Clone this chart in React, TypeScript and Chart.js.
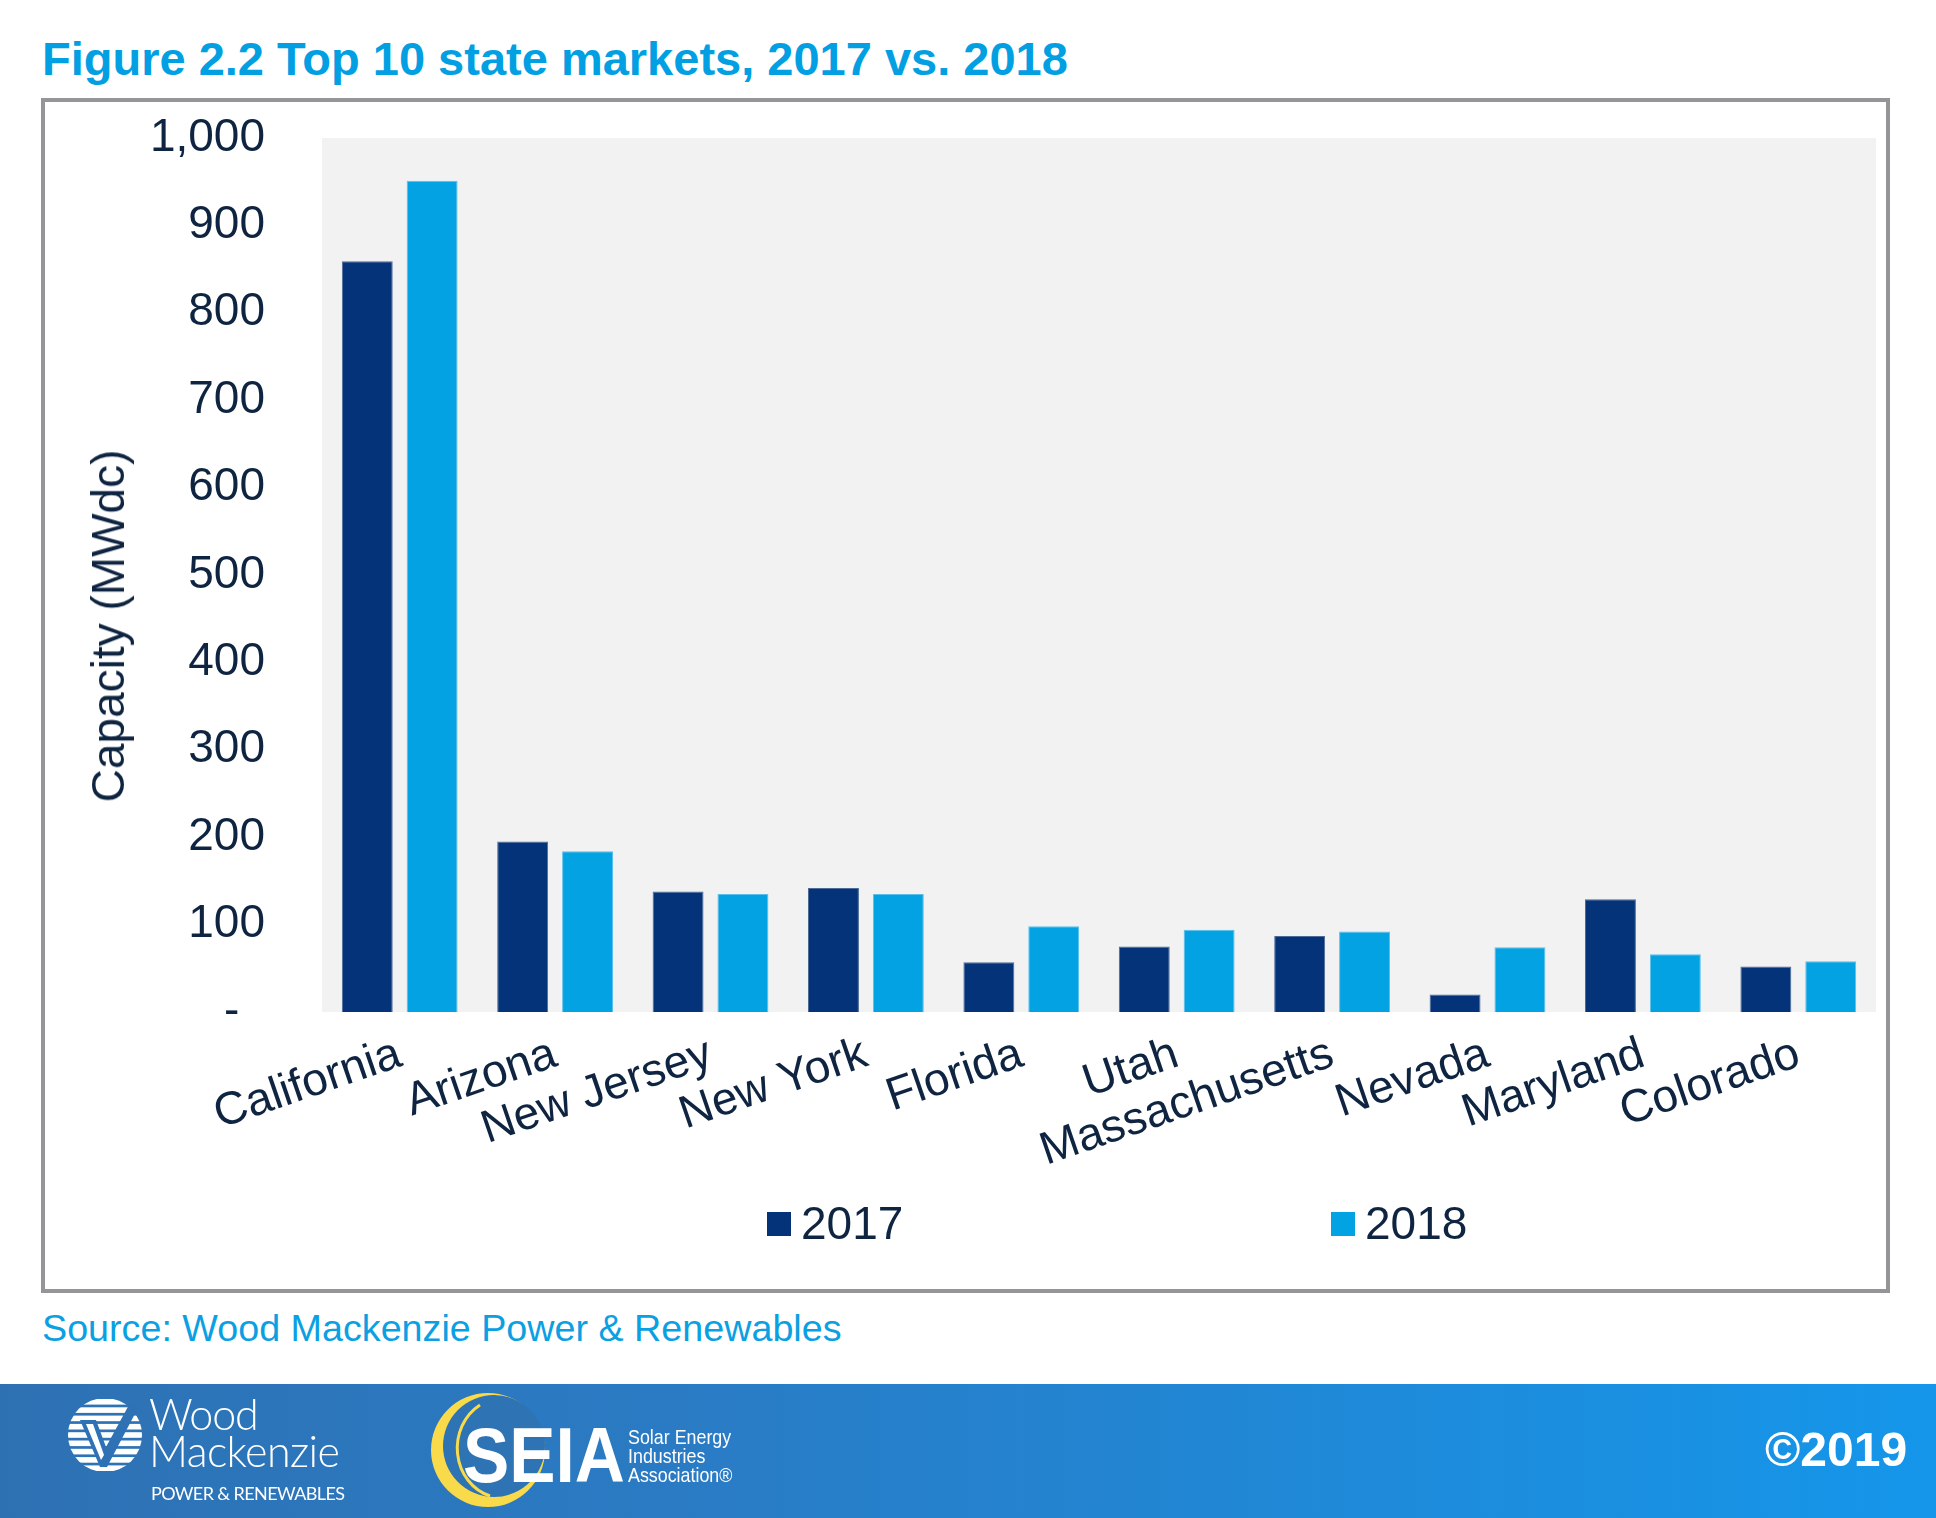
import React, { useEffect, useRef } from 'react';
import { Chart, registerables } from 'chart.js';

Chart.register(...registerables);

// ---- Data ----
const categories = ['California', 'Arizona', 'New Jersey', 'New York', 'Florida', 'Utah', 'Massachusetts', 'Nevada', 'Maryland', 'Colorado'];
const values2017 = [859, 195, 138, 142, 57, 75, 87, 20, 129, 52];
const values2018 = [951, 184, 135, 135, 98, 94, 92, 74, 66, 58];
const seriesLabels = ['2017', '2018'];
const seriesColors = ['#04337A', '#03A2E2'];
const seriesBorders = ['#4C6C97', '#5BBFEC'];
const yMin = 0;
const yMax = 1000;
const yStep = 100;

const titleText = 'Figure 2.2 Top 10 state markets, 2017 vs. 2018';
const yAxisTitle = 'Capacity (MWdc)';
const sourceText = 'Source: Wood Mackenzie Power & Renewables';

const FONT = "'Liberation Sans', Arial, Helvetica, sans-serif";
const NAVY = '#0E2441';

const plotBg = {
  id: 'plotBg',
  beforeDatasetsDraw(chart: any) {
    const { ctx, chartArea } = chart;
    const { left, top, right, bottom } = chartArea;
    ctx.save();
    ctx.fillStyle = '#F2F2F2';
    ctx.fillRect(left, top, right - left, bottom - top);
    ctx.restore();
  },
};

function ChartCanvas() {
  const ref = useRef<HTMLCanvasElement | null>(null);
  useEffect(() => {
    if (!ref.current) return;
    const chart = new Chart(ref.current, {
      type: 'bar',
      data: {
        labels: categories,
        datasets: [
          {
            label: seriesLabels[0],
            data: values2017,
            backgroundColor: seriesColors[0],
            borderColor: seriesBorders[0],
            borderWidth: 1,
            categoryPercentage: 0.835,
            barPercentage: 0.785,
          },
          {
            label: seriesLabels[1],
            data: values2018,
            backgroundColor: seriesColors[1],
            borderColor: seriesBorders[1],
            borderWidth: 1,
            categoryPercentage: 0.835,
            barPercentage: 0.785,
          },
        ],
      },
      options: {
        responsive: false,
        animation: false,
        devicePixelRatio: 1,
        layout: { padding: { left: 0, top: 138, right: 60, bottom: 0 } },
        plugins: {
          legend: { display: false },
          tooltip: { enabled: false },
          title: { display: false },
        },
        scales: {
          x: {
            grid: { display: false, drawTicks: false },
            border: { display: false },
            ticks: {
              autoSkip: false,
              minRotation: 19,
              maxRotation: 19,
              padding: 15,
              color: NAVY,
              font: { family: FONT, size: 46 },
            },
            afterFit: (s: any) => {
              s.height = 1518 - 1012;
            },
          },
          y: {
            min: yMin,
            max: yMax,
            grid: { display: false, drawTicks: false },
            border: { display: false },
            ticks: {
              stepSize: yStep,
              padding: 57,
              color: NAVY,
              font: { family: FONT, size: 46 },
              callback: (v: any) => (Number(v) === 0 ? '-  ' : Number(v).toLocaleString('en-US')),
            },
            afterFit: (s: any) => {
              s.width = 322;
            },
          },
        },
      },
      plugins: [plotBg],
    });
    return () => chart.destroy();
  }, []);
  return (
    <canvas
      ref={ref}
      width={1936}
      height={1518}
      style={{ position: 'absolute', left: 0, top: 0, width: 1936, height: 1518, zIndex: 2 }}
    />
  );
}

function WoodMacLogo() {
  const stripes = [];
  for (let i = 0; i < 9; i++) {
    stripes.push(<rect key={i} x={66} y={1399 + i * 8.3} width={80} height={5.6} fill="#fff" />);
  }
  return (
    <svg style={{ position: 'absolute', left: 0, top: 0, zIndex: 3 }} width={1936} height={1518}>
      <defs>
        <clipPath id="globeClip">
          <circle cx={105} cy={1435} r={37} />
        </clipPath>
      </defs>
      <g clipPath="url(#globeClip)">{stripes}</g>
      <path d="M80 1420 L96 1420 L106 1447 L130 1403 L138 1408 L107 1467 L100 1467 Z" fill="#2E72B5" />
      <path d="M86 1424 L93 1424 L104 1455 L101 1460 Z" fill="#fff" />
    </svg>
  );
}

function SeiaLogo() {
  return (
    <svg style={{ position: 'absolute', left: 0, top: 0, zIndex: 3 }} width={1936} height={1518}>
      <circle cx={488} cy={1450} r={57} fill="#F9DA4A" />
      <circle cx={494} cy={1446} r={51} fill="#2E73B4" />
      <path d="M 480 1405 A 46 50 0 0 0 490 1496" fill="none" stroke="#F9DA4A" strokeWidth={3} />
    </svg>
  );
}

export default function App() {
  const abs = (o: any) => ({ position: 'absolute' as const, margin: 0, whiteSpace: 'nowrap' as const, ...o });
  return (
    <div style={{ position: 'absolute', left: 0, top: 0, width: 1936, height: 1518, background: '#fff', overflow: 'hidden', fontFamily: FONT }}>
      {/* Title */}
      <div style={abs({ left: 42, top: 35, fontSize: 47, lineHeight: '47px', fontWeight: 700, color: '#02A0E2' })}>{titleText}</div>

      {/* Frame */}
      <div style={abs({ left: 41, top: 98, width: 1849, height: 1195, border: '4px solid #939598', boxSizing: 'border-box', zIndex: 1 })} />

      {/* Y axis title */}
      <div
        style={abs({
          left: 108,
          top: 626,
          fontSize: 46,
          lineHeight: '46px',
          color: NAVY,
          transform: 'translate(-50%, -50%) rotate(-90deg)',
          zIndex: 3,
        })}
      >
        {yAxisTitle}
      </div>

      <ChartCanvas />

      {/* Legend */}
      {seriesLabels.map((lab, i) => (
        <React.Fragment key={lab}>
          <div style={abs({ left: 767 + i * 564, top: 1212, width: 24, height: 24, background: seriesColors[i], zIndex: 3 })} />
          <div style={abs({ left: 801 + i * 564, top: 1200, fontSize: 46, lineHeight: '46px', color: NAVY, zIndex: 3 })}>{lab}</div>
        </React.Fragment>
      ))}

      {/* Source */}
      <div style={abs({ left: 42, top: 1309, fontSize: 37.7, lineHeight: '38px', color: '#0BA0E2' })}>{sourceText}</div>

      {/* Footer band */}
      <div style={abs({ left: 0, top: 1384, width: 1936, height: 134, background: 'linear-gradient(to right, #2E71B3 0%, #2A7BC4 35%, #1596EA 100%)' })} />
      <WoodMacLogo />
      <div style={abs({ left: 149, top: 1392, fontSize: 43, lineHeight: '43px', fontFamily: 'Lato, sans-serif', fontWeight: 300, color: '#fff', letterSpacing: -1.2, zIndex: 4 })}>Wood</div>
      <div style={abs({ left: 149, top: 1429, fontSize: 43, lineHeight: '43px', fontFamily: 'Lato, sans-serif', fontWeight: 300, color: '#fff', letterSpacing: -0.6, zIndex: 4 })}>Mackenzie</div>
      <div style={abs({ left: 151, top: 1484, fontSize: 18, lineHeight: '18px', fontFamily: 'Lato, sans-serif', color: '#fff', letterSpacing: -0.6, zIndex: 4 })}>POWER &amp; RENEWABLES</div>

      <SeiaLogo />
      <div style={abs({ left: 463, top: 1417, fontSize: 77, lineHeight: '77px', fontWeight: 700, color: '#fff', transform: 'scaleX(0.9)', transformOrigin: 'left top', zIndex: 4 })}>SEIA</div>
      <div style={abs({ left: 628, top: 1427, fontSize: 21, lineHeight: '19px', color: '#fff', transform: 'scaleX(0.85)', transformOrigin: 'left top', zIndex: 4 })}>
        Solar Energy
        <br />
        Industries
        <br />
        Association®
      </div>

      <div style={abs({ left: 1765, top: 1426, fontSize: 48, lineHeight: '48px', fontWeight: 700, color: '#fff', zIndex: 4 })}>©2019</div>
    </div>
  );
}
